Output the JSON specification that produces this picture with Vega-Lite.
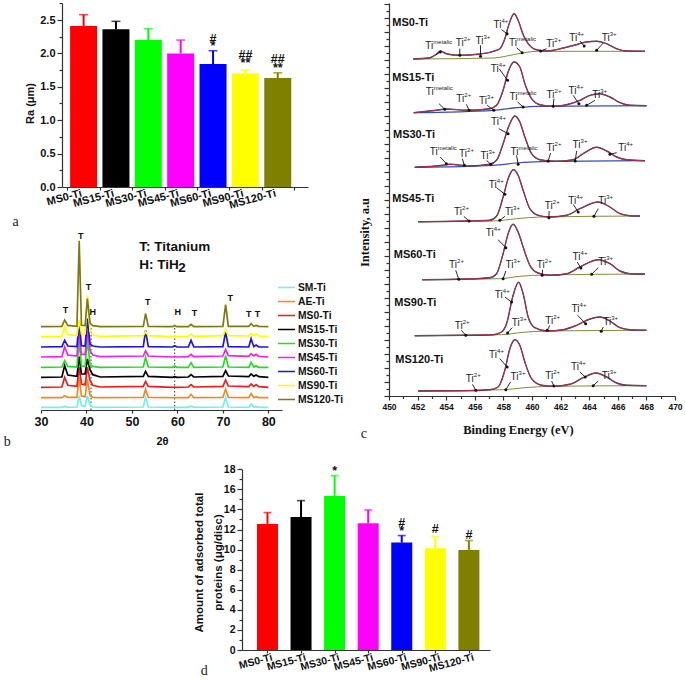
{"$schema":"https://vega.github.io/schema/vega-lite/v6.json","width":685,"height":680,"autosize":{"type":"none"},"padding":0,"background":"white",
"config":{"view":{"stroke":null},"font":"Liberation Sans","axis":{"grid":false,"domainColor":"#333","tickColor":"#333","domainWidth":1.2,"tickWidth":1.2,"labelColor":"#111","titleColor":"#111","labelFontWeight":"bold","titleFontWeight":"bold","labelOverlap":false,"labelFlush":false}},
"datasets":{
"ra":[{"pos":1,"sample":"MS0-Ti","val":2.41,"top":2.58},{"pos":2,"sample":"MS15-Ti","val":2.36,"top":2.48},{"pos":3,"sample":"MS30-Ti","val":2.2,"top":2.37},{"pos":4,"sample":"MS45-Ti","val":2.0,"top":2.2},{"pos":5,"sample":"MS60-Ti","val":1.84,"top":2.04},{"pos":6,"sample":"MS90-Ti","val":1.7,"top":1.75},{"pos":7,"sample":"MS120-Ti","val":1.63,"top":1.71}],
"prot":[{"pos":1,"sample":"MS0-Ti","val":12.56,"top":13.69},{"pos":2,"sample":"MS15-Ti","val":13.25,"top":14.88},{"pos":3,"sample":"MS30-Ti","val":15.35,"top":17.37},{"pos":4,"sample":"MS45-Ti","val":12.62,"top":13.95},{"pos":5,"sample":"MS60-Ti","val":10.7,"top":11.4},{"pos":6,"sample":"MS90-Ti","val":10.13,"top":11.3},{"pos":7,"sample":"MS120-Ti","val":9.97,"top":10.9}],
"xrd":[
{"t":30,"SM-Ti":8,"AE-Ti":37,"MS0-Ti":68,"MS15-Ti":98,"MS30-Ti":128,"MS45-Ti":159,"MS60-Ti":189,"MS90-Ti":220,"MS120-Ti":250},
{"t":34.6,"SM-Ti":8,"AE-Ti":37,"MS0-Ti":69,"MS15-Ti":99,"MS30-Ti":129,"MS45-Ti":160,"MS60-Ti":190,"MS90-Ti":221,"MS120-Ti":251},
{"t":35.2,"SM-Ti":11,"AE-Ti":43,"MS0-Ti":98,"MS15-Ti":133,"MS30-Ti":148,"MS45-Ti":189,"MS60-Ti":209,"MS90-Ti":250,"MS120-Ti":270},
{"t":35.9,"SM-Ti":8,"AE-Ti":38,"MS0-Ti":74,"MS15-Ti":105,"MS30-Ti":131,"MS45-Ti":165,"MS60-Ti":192,"MS90-Ti":226,"MS120-Ti":254},
{"t":37.9,"SM-Ti":9,"AE-Ti":38,"MS0-Ti":71,"MS15-Ti":101,"MS30-Ti":129,"MS45-Ti":162,"MS60-Ti":190,"MS90-Ti":223,"MS120-Ti":251},
{"t":38.4,"SM-Ti":43,"AE-Ti":97,"MS0-Ti":128,"MS15-Ti":160,"MS30-Ti":208,"MS45-Ti":239,"MS60-Ti":264,"MS90-Ti":270,"MS120-Ti":508},
{"t":38.9,"SM-Ti":13,"AE-Ti":42,"MS0-Ti":78,"MS15-Ti":108,"MS30-Ti":132,"MS45-Ti":167,"MS60-Ti":193,"MS90-Ti":228,"MS120-Ti":254},
{"t":39.7,"SM-Ti":11,"AE-Ti":40,"MS0-Ti":76,"MS15-Ti":108,"MS30-Ti":131,"MS45-Ti":167,"MS60-Ti":192,"MS90-Ti":228,"MS120-Ti":253},
{"t":40.2,"SM-Ti":43,"AE-Ti":92,"MS0-Ti":128,"MS15-Ti":153,"MS30-Ti":213,"MS45-Ti":239,"MS60-Ti":274,"MS90-Ti":343,"MS120-Ti":334},
{"t":40.8,"SM-Ti":14,"AE-Ti":43,"MS0-Ti":88,"MS15-Ti":120,"MS30-Ti":134,"MS45-Ti":177,"MS60-Ti":197,"MS90-Ti":235,"MS120-Ti":260},
{"t":41.4,"SM-Ti":9,"AE-Ti":38,"MS0-Ti":74,"MS15-Ti":106,"MS30-Ti":131,"MS45-Ti":165,"MS60-Ti":192,"MS90-Ti":225,"MS120-Ti":253},
{"t":43,"SM-Ti":8,"AE-Ti":37,"MS0-Ti":69,"MS15-Ti":99,"MS30-Ti":128,"MS45-Ti":160,"MS60-Ti":189,"MS90-Ti":221,"MS120-Ti":250},
{"t":52.5,"SM-Ti":9,"AE-Ti":38,"MS0-Ti":71,"MS15-Ti":101,"MS30-Ti":129,"MS45-Ti":162,"MS60-Ti":190,"MS90-Ti":223,"MS120-Ti":251},
{"t":53,"SM-Ti":38,"AE-Ti":62,"MS0-Ti":86,"MS15-Ti":116,"MS30-Ti":158,"MS45-Ti":177,"MS60-Ti":239,"MS90-Ti":235,"MS120-Ti":289},
{"t":53.6,"SM-Ti":9,"AE-Ti":38,"MS0-Ti":71,"MS15-Ti":101,"MS30-Ti":129,"MS45-Ti":162,"MS60-Ti":190,"MS90-Ti":223,"MS120-Ti":251},
{"t":58.9,"SM-Ti":8,"AE-Ti":37,"MS0-Ti":68,"MS15-Ti":98,"MS30-Ti":128,"MS45-Ti":159,"MS60-Ti":189,"MS90-Ti":220,"MS120-Ti":250},
{"t":59.4,"SM-Ti":8,"AE-Ti":37,"MS0-Ti":69,"MS15-Ti":100,"MS30-Ti":132,"MS45-Ti":161,"MS60-Ti":193,"MS90-Ti":222,"MS120-Ti":253},
{"t":59.9,"SM-Ti":8,"AE-Ti":37,"MS0-Ti":68,"MS15-Ti":98,"MS30-Ti":128,"MS45-Ti":159,"MS60-Ti":189,"MS90-Ti":220,"MS120-Ti":250},
{"t":62.4,"SM-Ti":8,"AE-Ti":37,"MS0-Ti":69,"MS15-Ti":99,"MS30-Ti":128,"MS45-Ti":160,"MS60-Ti":189,"MS90-Ti":221,"MS120-Ti":250},
{"t":63,"SM-Ti":12,"AE-Ti":47,"MS0-Ti":76,"MS15-Ti":106,"MS30-Ti":142,"MS45-Ti":167,"MS60-Ti":209,"MS90-Ti":228,"MS120-Ti":257},
{"t":63.6,"SM-Ti":8,"AE-Ti":37,"MS0-Ti":69,"MS15-Ti":99,"MS30-Ti":128,"MS45-Ti":160,"MS60-Ti":189,"MS90-Ti":221,"MS120-Ti":250},
{"t":70,"SM-Ti":9,"AE-Ti":38,"MS0-Ti":71,"MS15-Ti":101,"MS30-Ti":129,"MS45-Ti":162,"MS60-Ti":190,"MS90-Ti":223,"MS120-Ti":251},
{"t":70.6,"SM-Ti":38,"AE-Ti":62,"MS0-Ti":90,"MS15-Ti":118,"MS30-Ti":163,"MS45-Ti":181,"MS60-Ti":234,"MS90-Ti":240,"MS120-Ti":316},
{"t":71.2,"SM-Ti":9,"AE-Ti":38,"MS0-Ti":72,"MS15-Ti":102,"MS30-Ti":129,"MS45-Ti":163,"MS60-Ti":190,"MS90-Ti":223,"MS120-Ti":251},
{"t":75.7,"SM-Ti":8,"AE-Ti":37,"MS0-Ti":70,"MS15-Ti":100,"MS30-Ti":128,"MS45-Ti":161,"MS60-Ti":189,"MS90-Ti":222,"MS120-Ti":251},
{"t":76.2,"SM-Ti":18,"AE-Ti":49,"MS0-Ti":78,"MS15-Ti":108,"MS30-Ti":143,"MS45-Ti":169,"MS60-Ti":214,"MS90-Ti":230,"MS120-Ti":259},
{"t":76.8,"SM-Ti":8,"AE-Ti":37,"MS0-Ti":71,"MS15-Ti":101,"MS30-Ti":129,"MS45-Ti":162,"MS60-Ti":190,"MS90-Ti":223,"MS120-Ti":251},
{"t":77.3,"SM-Ti":10,"AE-Ti":40,"MS0-Ti":76,"MS15-Ti":105,"MS30-Ti":133,"MS45-Ti":167,"MS60-Ti":195,"MS90-Ti":228,"MS120-Ti":254},
{"t":77.9,"SM-Ti":8,"AE-Ti":37,"MS0-Ti":70,"MS15-Ti":100,"MS30-Ti":128,"MS45-Ti":161,"MS60-Ti":189,"MS90-Ti":222,"MS120-Ti":251},
{"t":80,"SM-Ti":8,"AE-Ti":37,"MS0-Ti":68,"MS15-Ti":98,"MS30-Ti":128,"MS45-Ti":159,"MS60-Ti":189,"MS90-Ti":220,"MS120-Ti":250}],
"xps":[
{"s":"MS0","e":451.7,"i":337},{"s":"MS0","e":452.85,"i":338.3},{"s":"MS0","e":453.36,"i":342.3},{"s":"MS0","e":453.6,"i":345},{"s":"MS0","e":454,"i":342.3},{"s":"MS0","e":454.95,"i":340.7},{"s":"MS0","e":456.35,"i":342},{"s":"MS0","e":457.3,"i":344.7},{"s":"MS0","e":457.75,"i":347.3},{"s":"MS0","e":458.1,"i":357.3},{"s":"MS0","e":458.4,"i":372.3},{"s":"MS0","e":458.75,"i":382.3},{"s":"MS0","e":459.03,"i":375.7},{"s":"MS0","e":459.4,"i":360.7},{"s":"MS0","e":459.73,"i":352.3},{"s":"MS0","e":460.3,"i":346.3},{"s":"MS0","e":461,"i":345},{"s":"MS0","e":462.2,"i":348},{"s":"MS0","e":463.1,"i":351.3},{"s":"MS0","e":463.8,"i":354},{"s":"MS0","e":464.5,"i":354.7},{"s":"MS0","e":465.2,"i":352.3},{"s":"MS0","e":465.9,"i":347.3},{"s":"MS0","e":466.6,"i":345},{"s":"MS0","e":467.9,"i":344.7},
{"s":"MS15","e":451.73,"i":283.3},{"s":"MS15","e":453.31,"i":285.7},{"s":"MS15","e":454.01,"i":287},{"s":"MS15","e":455.41,"i":285.7},{"s":"MS15","e":457.05,"i":287.3},{"s":"MS15","e":457.52,"i":290.7},{"s":"MS15","e":457.98,"i":305.7},{"s":"MS15","e":458.33,"i":324},{"s":"MS15","e":458.75,"i":334},{"s":"MS15","e":459.15,"i":329},{"s":"MS15","e":459.5,"i":312.3},{"s":"MS15","e":459.97,"i":297.3},{"s":"MS15","e":460.55,"i":291.3},{"s":"MS15","e":461.48,"i":289.7},{"s":"MS15","e":462.42,"i":291.3},{"s":"MS15","e":463.35,"i":295.7},{"s":"MS15","e":464.05,"i":300.7},{"s":"MS15","e":464.75,"i":302.3},{"s":"MS15","e":465.45,"i":299},{"s":"MS15","e":466.15,"i":293.3},{"s":"MS15","e":466.85,"i":290.7},{"s":"MS15","e":468,"i":290.3},
{"s":"MS30","e":451.8,"i":228.7},{"s":"MS30","e":453.78,"i":230.7},{"s":"MS30","e":454.25,"i":231.7},{"s":"MS30","e":455.65,"i":230},{"s":"MS30","e":457.05,"i":231.7},{"s":"MS30","e":457.52,"i":235.7},{"s":"MS30","e":457.98,"i":252.3},{"s":"MS30","e":458.4,"i":270.7},{"s":"MS30","e":458.8,"i":280},{"s":"MS30","e":459.15,"i":274},{"s":"MS30","e":459.5,"i":259},{"s":"MS30","e":459.97,"i":242.3},{"s":"MS30","e":460.55,"i":236.3},{"s":"MS30","e":461.72,"i":234.7},{"s":"MS30","e":462.88,"i":236.3},{"s":"MS30","e":463.58,"i":242.3},{"s":"MS30","e":464.52,"i":248.7},{"s":"MS30","e":465.22,"i":245},{"s":"MS30","e":465.92,"i":239},{"s":"MS30","e":466.62,"i":236.3},{"s":"MS30","e":467.9,"i":235.3},
{"s":"MS45","e":452.03,"i":174.3},{"s":"MS45","e":455.41,"i":175},{"s":"MS45","e":457.05,"i":175.7},{"s":"MS45","e":457.52,"i":179.7},{"s":"MS45","e":457.98,"i":199},{"s":"MS45","e":458.33,"i":217.3},{"s":"MS45","e":458.7,"i":226.3},{"s":"MS45","e":459.03,"i":220.7},{"s":"MS45","e":459.38,"i":205.7},{"s":"MS45","e":459.85,"i":187.3},{"s":"MS45","e":460.43,"i":180.7},{"s":"MS45","e":461.25,"i":179},{"s":"MS45","e":462.42,"i":180.7},{"s":"MS45","e":463.35,"i":187.3},{"s":"MS45","e":464.63,"i":194},{"s":"MS45","e":465.45,"i":189},{"s":"MS45","e":466.15,"i":182.3},{"s":"MS45","e":466.85,"i":180.3},{"s":"MS45","e":467.55,"i":180},
{"s":"MS60","e":452.33,"i":116.3},{"s":"MS60","e":455.41,"i":117},{"s":"MS60","e":457.05,"i":118.3},{"s":"MS60","e":457.52,"i":122.3},{"s":"MS60","e":457.98,"i":142.3},{"s":"MS60","e":458.33,"i":162.3},{"s":"MS60","e":458.68,"i":171.7},{"s":"MS60","e":459.03,"i":164},{"s":"MS60","e":459.38,"i":149},{"s":"MS60","e":459.85,"i":130.7},{"s":"MS60","e":460.43,"i":123},{"s":"MS60","e":461.25,"i":120.7},{"s":"MS60","e":462.42,"i":122.3},{"s":"MS60","e":463.35,"i":129},{"s":"MS60","e":464.63,"i":136.3},{"s":"MS60","e":465.45,"i":132.3},{"s":"MS60","e":466.15,"i":125},{"s":"MS60","e":466.85,"i":122.3},{"s":"MS60","e":467.9,"i":122},
{"s":"MS90","e":451.8,"i":60.3},{"s":"MS90","e":455.18,"i":60.7},{"s":"MS90","e":457.28,"i":61.3},{"s":"MS90","e":457.87,"i":64},{"s":"MS90","e":458.22,"i":72.3},{"s":"MS90","e":458.68,"i":100.7},{"s":"MS90","e":459.06,"i":113.7},{"s":"MS90","e":459.38,"i":102.3},{"s":"MS90","e":459.73,"i":79},{"s":"MS90","e":460.2,"i":68.3},{"s":"MS90","e":461.02,"i":65},{"s":"MS90","e":462.18,"i":66.3},{"s":"MS90","e":463.12,"i":70.7},{"s":"MS90","e":464.05,"i":77},{"s":"MS90","e":464.75,"i":79},{"s":"MS90","e":465.45,"i":75},{"s":"MS90","e":466.15,"i":68.3},{"s":"MS90","e":466.85,"i":66.3},{"s":"MS90","e":468,"i":65.7},
{"s":"MS120","e":452.03,"i":5},{"s":"MS120","e":455.18,"i":5.3},{"s":"MS120","e":457.05,"i":6.3},{"s":"MS120","e":457.63,"i":9},{"s":"MS120","e":458.1,"i":25.7},{"s":"MS120","e":458.45,"i":47.3},{"s":"MS120","e":458.8,"i":56.3},{"s":"MS120","e":459.15,"i":50.7},{"s":"MS120","e":459.5,"i":34},{"s":"MS120","e":459.97,"i":17.3},{"s":"MS120","e":460.67,"i":10.7},{"s":"MS120","e":461.48,"i":9.7},{"s":"MS120","e":462.65,"i":11.7},{"s":"MS120","e":463.58,"i":18.3},{"s":"MS120","e":464.47,"i":23},{"s":"MS120","e":465.22,"i":19},{"s":"MS120","e":465.92,"i":13},{"s":"MS120","e":466.62,"i":10.7},{"s":"MS120","e":468,"i":10.3}],
"xpsbase":[
{"s":"MS0","g":"g","e":451.7,"i":337},{"s":"MS0","g":"g","e":457.3,"i":338},{"s":"MS0","g":"g","e":458.94,"i":342},{"s":"MS0","g":"g","e":460.34,"i":344.7},{"s":"MS0","g":"g","e":467.9,"i":344.7},
{"s":"MS15","g":"b","e":451.73,"i":283.3},{"s":"MS15","g":"b","e":457.28,"i":285.7},{"s":"MS15","g":"b","e":458.92,"i":288.3},{"s":"MS15","g":"b","e":460.34,"i":289.7},{"s":"MS15","g":"b","e":468,"i":290.3},
{"s":"MS30","g":"b","e":451.8,"i":228.7},{"s":"MS30","g":"b","e":457.28,"i":230.7},{"s":"MS30","g":"b","e":458.92,"i":233},{"s":"MS30","g":"b","e":460.55,"i":234.3},{"s":"MS30","g":"b","e":467.9,"i":235.3},
{"s":"MS45","g":"g","e":452.03,"i":174.3},{"s":"MS45","g":"g","e":457.28,"i":175},{"s":"MS45","g":"g","e":458.92,"i":177.3},{"s":"MS45","g":"g","e":460.55,"i":179},{"s":"MS45","g":"g","e":467.55,"i":180},
{"s":"MS60","g":"g","e":452.33,"i":116.3},{"s":"MS60","g":"g","e":457.75,"i":117.3},{"s":"MS60","g":"g","e":459.15,"i":119.7},{"s":"MS60","g":"g","e":460.8,"i":121},{"s":"MS60","g":"g","e":467.9,"i":122},
{"s":"MS90","g":"g","e":451.8,"i":60.3},{"s":"MS90","g":"g","e":457.87,"i":61.3},{"s":"MS90","g":"g","e":459.38,"i":63.7},{"s":"MS90","g":"g","e":461.02,"i":65},{"s":"MS90","g":"g","e":468,"i":65.7},
{"s":"MS120","g":"g","e":452.03,"i":5},{"s":"MS120","g":"g","e":457.98,"i":6.3},{"s":"MS120","g":"g","e":459.5,"i":8.3},{"s":"MS120","g":"g","e":461.25,"i":9.7},{"s":"MS120","g":"g","e":468,"i":10.3}],
"ti":[
{"e":452.54,"i":346.7,"b":"Ti","u":"metalic"},{"e":454.67,"i":349.7,"b":"Ti","u":"2+"},{"e":456.05,"i":351.7,"b":"Ti","u":"3+"},{"e":457.31,"i":368.3,"b":"Ti","u":"4+"},{"e":458.4,"i":350,"b":"Ti","u":"metalic"},{"e":461,"i":349,"b":"Ti","u":"2+"},{"e":462.6,"i":354.7,"b":"Ti","u":"4+"},{"e":464.87,"i":355,"b":"Ti","u":"3+"},
{"e":452.57,"i":301.3,"b":"Ti","u":"metalic"},{"e":454.71,"i":294.3,"b":"Ti","u":"2+"},{"e":456.3,"i":292.3,"b":"Ti","u":"3+"},{"e":457.12,"i":324,"b":"Ti","u":"4+"},{"e":458.43,"i":295.7,"b":"Ti","u":"metalic"},{"e":461.02,"i":298.3,"b":"Ti","u":"2+"},{"e":462.56,"i":302.3,"b":"Ti","u":"4+"},{"e":464.21,"i":298.3,"b":"Ti","u":"3+"},
{"e":452.85,"i":240.7,"b":"Ti","u":"metalic"},{"e":454.9,"i":239,"b":"Ti","u":"2+"},{"e":456.4,"i":237.3,"b":"Ti","u":"3+"},{"e":457.14,"i":270.7,"b":"Ti","u":"4+"},{"e":458.5,"i":240.7,"b":"Ti","u":"metalic"},{"e":461.02,"i":245,"b":"Ti","u":"2+"},{"e":462.84,"i":248,"b":"Ti","u":"3+"},{"e":466.03,"i":245,"b":"Ti","u":"4+"},
{"e":454.55,"i":180.7,"b":"Ti","u":"2+"},{"e":458.12,"i":180.7,"b":"Ti","u":"3+"},{"e":456.98,"i":208.3,"b":"Ti","u":"4+"},{"e":460.9,"i":187.3,"b":"Ti","u":"2+"},{"e":462.53,"i":192.3,"b":"Ti","u":"4+"},{"e":464.63,"i":191.7,"b":"Ti","u":"3+"},
{"e":456.77,"i":159.7,"b":"Ti","u":"4+"},{"e":454.2,"i":128,"b":"Ti","u":"2+"},{"e":458.15,"i":128,"b":"Ti","u":"3+"},{"e":460.34,"i":128.3,"b":"Ti","u":"2+"},{"e":462.84,"i":136.3,"b":"Ti","u":"4+"},{"e":464.63,"i":130.7,"b":"Ti","u":"3+"},
{"e":457.4,"i":98,"b":"Ti","u":"4+"},{"e":454.6,"i":66.7,"b":"Ti","u":"2+"},{"e":458.59,"i":70,"b":"Ti","u":"3+"},{"e":460.92,"i":71.7,"b":"Ti","u":"2+"},{"e":462.77,"i":84,"b":"Ti","u":"4+"},{"e":464.98,"i":71.3,"b":"Ti","u":"3+"},
{"e":457,"i":38.3,"b":"Ti","u":"4+"},{"e":455.37,"i":14,"b":"Ti","u":"2+"},{"e":458.5,"i":15.7,"b":"Ti","u":"3+"},{"e":460.92,"i":16.7,"b":"Ti","u":"2+"},{"e":462.72,"i":25.7,"b":"Ti","u":"4+"},{"e":464.87,"i":17,"b":"Ti","u":"3+"}],
"arrows":[
{"e":453.27,"i":341.3,"e2":453.59,"i2":344},{"e":454.95,"i":347.3,"e2":454.95,"i2":340.7},{"e":456.4,"i":350.7,"e2":456.4,"i2":339.7},{"e":457.87,"i":366.3,"e2":458.26,"i2":362.3},{"e":458.92,"i":348.3,"e2":459.31,"i2":343.3},{"e":461.02,"i":347.3,"e2":460.6,"i2":345},{"e":463.35,"i":355,"e2":463.65,"i2":350},{"e":464.98,"i":353,"e2":464.52,"i2":345.7},
{"e":453.5,"i":292.3,"e2":453.9,"i2":286.7},{"e":455.41,"i":291.7,"e2":455.6,"i2":285.7},{"e":456.86,"i":290.7,"e2":457.33,"i2":285.7},{"e":457.7,"i":327.3,"e2":458.29,"i2":315.7},{"e":458.99,"i":294,"e2":459.38,"i2":289},{"e":461.53,"i":297.3,"e2":461.48,"i2":289.7},{"e":462.88,"i":300.7,"e2":463.28,"i2":292.3},{"e":464.4,"i":295.7,"e2":463.82,"i2":290.7},
{"e":453.59,"i":239,"e2":454.01,"i2":232.3},{"e":455.13,"i":237.3,"e2":455.27,"i2":230.7},{"e":456.82,"i":235.7,"e2":457.12,"i2":231.7},{"e":457.68,"i":267.3,"e2":458.33,"i2":262.3},{"e":458.92,"i":240.7,"e2":459.03,"i2":231.7},{"e":461.3,"i":243,"e2":461.13,"i2":235},{"e":463.12,"i":245,"e2":463.02,"i2":235},{"e":465.92,"i":243.3,"e2":465.45,"i2":241.7},
{"e":455.23,"i":179.7,"e2":455.6,"i2":175},{"e":458.1,"i":179.7,"e2":457.75,"i2":175.7},{"e":457.52,"i":208.3,"e2":458.1,"i2":201.7},{"e":461.2,"i":185,"e2":461.18,"i2":178.3},{"e":462.88,"i":191.7,"e2":463.23,"i2":184},{"e":464.63,"i":187.3,"e2":464.33,"i2":179.7},
{"e":457.63,"i":156.3,"e2":458.17,"i2":148.3},{"e":454.67,"i":125.7,"e2":454.88,"i2":116.7},{"e":458.17,"i":125,"e2":457.98,"i2":117.3},{"e":460.74,"i":126.3,"e2":460.71,"i2":120.7},{"e":463.16,"i":134,"e2":463.42,"i2":128},{"e":464.63,"i":128.3,"e2":464.17,"i2":121.7},
{"e":458.1,"i":99,"e2":458.57,"i2":94},{"e":455.06,"i":65.7,"e2":455.37,"i2":60.7},{"e":458.61,"i":68.3,"e2":458.29,"i2":63},{"e":461.25,"i":70.7,"e2":461.06,"i2":65.7},{"e":463.19,"i":80.7,"e2":463.75,"i2":72.3},{"e":464.98,"i":69,"e2":464.84,"i2":64.7},
{"e":457.75,"i":37.3,"e2":458.26,"i2":29},{"e":455.84,"i":11.7,"e2":456.07,"i2":5.7},{"e":458.5,"i":14,"e2":458.17,"i2":6.3},{"e":461.37,"i":15,"e2":461.53,"i2":10},{"e":463.35,"i":24,"e2":463.72,"i2":19},{"e":464.63,"i":15,"e2":464.28,"i2":10.3}]
},
"layer":[
{"resolve":{"axis":{"x":"independent","y":"independent"}},
 "layer":[
 {"data":{"name":"ra"},"mark":{"type":"bar","width":27},
  "encoding":{"x":{"field":"pos","type":"quantitative","scale":{"domain":[0.487,7.78],"range":[62,308],"nice":false,"zero":false},"axis":{"orient":"bottom","offset":-493,"values":[1,2,3,4,5,6,7],"labelExpr":"['MS0-Ti','MS15-Ti','MS30-Ti','MS45-Ti','MS60-Ti','MS90-Ti','MS120-Ti'][datum.value-1]","tickSize":0,"labelAngle":345,"labelAlign":"right","labelBaseline":"top","labelFontSize":11,"labelPadding":0,"labelOffset":-4,"title":null}},
  "y":{"field":"val","type":"quantitative","scale":{"domain":[0,2.75],"range":[187,3.3],"nice":false,"zero":false},"axis":{"orient":"left","offset":-62,"values":[0,0.5,1,1.5,2,2.5],"format":".1f","tickSize":5,"labelFontSize":11,"labelPadding":2,"title":"Ra (μm)","titleFontSize":11,"titleX":-27,"titleY":103}},
  "color":{"field":"sample","type":"nominal","legend":null,"scale":{"domain":["MS0-Ti","MS15-Ti","MS30-Ti","MS45-Ti","MS60-Ti","MS90-Ti","MS120-Ti"],"range":["#ff0000","#000000","#00ff00","#ff00ff","#0000ff","#ffff00","#808000"]}}}},
 {"data":{"name":"ra"},"mark":{"type":"rule","strokeWidth":2},
  "encoding":{"x":{"field":"pos","type":"quantitative","axis":{"orient":"bottom","offset":-493,"values":[0.5,1.5,2.5,3.5,4.5,5.5,6.5,7.5],"labels":false,"domain":false,"tickSize":3,"title":null}},
  "y":{"field":"val","type":"quantitative","axis":{"orient":"left","offset":-62,"values":[0.25,0.75,1.25,1.75,2.25,2.75],"labels":false,"domain":false,"tickSize":3,"title":null}},"y2":{"field":"top"},
  "color":{"field":"sample","type":"nominal","legend":null}}},
 {"data":{"name":"ra"},"mark":{"type":"tick","orient":"horizontal","size":9,"thickness":1.6},
  "encoding":{"x":{"field":"pos","type":"quantitative","axis":null},"y":{"field":"top","type":"quantitative","axis":null},"color":{"field":"sample","type":"nominal","legend":null}}},
 {"data":{"values":[{"pos":5,"val":2.21,"label":"#"},{"pos":5,"val":2.11,"label":"*"},{"pos":6,"val":1.97,"label":"##"},{"pos":6,"val":1.85,"label":"**"},{"pos":7,"val":1.91,"label":"##"},{"pos":7,"val":1.78,"label":"**"}]},"mark":{"type":"text","fontSize":12.5,"fontWeight":"bold","color":"#111"},
  "encoding":{"x":{"field":"pos","type":"quantitative","axis":null},"y":{"field":"val","type":"quantitative","axis":null},"text":{"field":"label"}}},
 {"data":{"values":[{"pos":-1.1,"val":-0.53,"label":"a"}]},"mark":{"type":"text","fontSize":14,"font":"Liberation Serif","color":"#222"},
  "encoding":{"x":{"field":"pos","type":"quantitative","axis":null},"y":{"field":"val","type":"quantitative","axis":null},"text":{"field":"label"}}}
 ]},
{"resolve":{"axis":{"x":"independent","y":"independent"}},
 "layer":[
 {"data":{"values":[{"t":41,"lo":0,"hi":246},{"t":59.4,"lo":0,"hi":256}]},"mark":{"type":"rule","strokeDash":[1.5,2],"strokeWidth":1,"color":"#333"},
  "encoding":{"x":{"field":"t","type":"quantitative","scale":{"domain":[30,83],"range":[41,282],"nice":false,"zero":false},"axis":{"orient":"bottom","offset":-270,"values":[30,40,50,60,70,80],"tickSize":3,"labelFontSize":12.5,"labelPadding":2,"title":"2θ","titleFontSize":11,"titleX":162,"titleY":25}},
  "y":{"field":"lo","type":"quantitative","scale":{"domain":[0,534],"range":[410,232],"nice":false,"zero":false},"axis":null},"y2":{"field":"hi"}}},
 {"data":{"name":"xrd"},"transform":[{"fold":["SM-Ti","AE-Ti","MS0-Ti","MS15-Ti","MS30-Ti","MS45-Ti","MS60-Ti","MS90-Ti","MS120-Ti"],"as":["series","inten"]}],"mark":{"type":"line","strokeWidth":1.7},
  "encoding":{"x":{"field":"t","type":"quantitative","axis":null},"y":{"field":"inten","type":"quantitative","axis":null},
  "color":{"field":"series","type":"nominal","sort":null,"scale":{"domain":["SM-Ti","AE-Ti","MS0-Ti","MS15-Ti","MS30-Ti","MS45-Ti","MS60-Ti","MS90-Ti","MS120-Ti"],"range":["#70f0f0","#f08a24","#ee1c1c","#000000","#22dd22","#ee22ee","#1a1ad8","#ffff00","#7f7a10"]},
   "legend":{"orient":"none","legendX":277,"legendY":281,"title":null,"symbolType":"stroke","symbolSize":289,"symbolStrokeWidth":1.5,"clipHeight":13.2,"rowPadding":0,"labelFontSize":10.3,"labelFontWeight":"bold","labelColor":"#111","labelOffset":2}}}},
 {"data":{"values":[{"t":35.4,"val":301,"label":"T"},{"t":38.75,"val":523,"label":"T"},{"t":40.45,"val":368,"label":"T"},{"t":41.4,"val":293,"label":"H"},{"t":53.45,"val":323,"label":"T"},{"t":60.07,"val":293,"label":"H"},{"t":63.75,"val":290,"label":"T"},{"t":71.6,"val":336,"label":"T"},{"t":75.7,"val":288,"label":"T"},{"t":77.6,"val":288,"label":"T"}]},"mark":{"type":"text","fontSize":9,"fontWeight":"bold","color":"#111"},
  "encoding":{"x":{"field":"t","type":"quantitative","axis":null},"y":{"field":"val","type":"quantitative","axis":null},"text":{"field":"label"}}},
 {"data":{"values":[{"t":51.6,"val":489,"label":"T: Titanium"},{"t":51.6,"val":436,"label":"H: TiH"}]},"mark":{"type":"text","fontSize":13.5,"fontWeight":"bold","align":"left","color":"#111"},
  "encoding":{"x":{"field":"t","type":"quantitative","axis":null},"y":{"field":"val","type":"quantitative","axis":null},"text":{"field":"label"}}},
 {"data":{"values":[{"t":60.2,"val":426,"label":"2"}]},"mark":{"type":"text","fontSize":13.5,"fontWeight":"bold","align":"left","color":"#111"},
  "encoding":{"x":{"field":"t","type":"quantitative","axis":null},"y":{"field":"val","type":"quantitative","axis":null},"text":{"field":"label"}}},
 {"data":{"values":[{"t":22.6,"val":-95,"label":"b"}]},"mark":{"type":"text","fontSize":14,"font":"Liberation Serif","color":"#222"},
  "encoding":{"x":{"field":"t","type":"quantitative","axis":null},"y":{"field":"val","type":"quantitative","axis":null},"text":{"field":"label"}}}
 ]},
{"resolve":{"axis":{"x":"independent","y":"independent"}},
 "layer":[
 {"data":{"name":"xpsbase"},"transform":[{"filter":"datum.g=='g'"}],"mark":{"type":"line","strokeWidth":1,"color":"#7d8f3c","interpolate":"monotone"},
  "encoding":{"x":{"field":"e","type":"quantitative","scale":{"domain":[450,470],"range":[389,675],"nice":false,"zero":false},"axis":{"orient":"bottom","offset":-284,"values":[450,452,454,456,458,460,462,464,466,468,470],"tickSize":4,"labelFontSize":8.5,"labelPadding":2,"title":"Binding Energy (eV)","titleFont":"Liberation Serif","titleFontSize":12.5,"titleX":518,"titleY":27}},
  "y":{"field":"i","type":"quantitative","scale":{"domain":[0,393],"range":[396,3],"nice":false,"zero":false},"axis":{"orient":"left","offset":-389,"values":[0,14,28,42,56,70,84,98,112,126,140,154,168,182,196,210,224,238,252,266,280,294,308,322,336,350,364,378,392],"labels":false,"tickSize":5,"title":"Intensity, a.u","titleFont":"Liberation Serif","titleFontSize":12.5,"titleX":-18,"titleY":232}},
  "detail":{"field":"s"}}},
 {"data":{"name":"xpsbase"},"transform":[{"filter":"datum.g=='b'"}],"mark":{"type":"line","strokeWidth":1.2,"color":"#3b4bb8","interpolate":"monotone"},
  "encoding":{"x":{"field":"e","type":"quantitative","axis":{"orient":"bottom","offset":-284,"values":[451,453,455,457,459,461,463,465,467,469],"labels":false,"domain":false,"tickSize":2.5,"title":null}},
  "y":{"field":"i","type":"quantitative","axis":{"orient":"left","offset":-389,"values":[7,21,35,49,63,77,91,105,119,133,147,161,175,189,203,217,231,245,259,273,287,301,315,329,343,357,371,385],"labels":false,"domain":false,"tickSize":3,"title":null}},
  "detail":{"field":"s"}}},
 {"data":{"name":"xps"},"mark":{"type":"line","strokeWidth":1.4,"color":"#35354f","interpolate":"monotone"},
  "encoding":{"x":{"field":"e","type":"quantitative","axis":null},"y":{"field":"i","type":"quantitative","axis":null},"detail":{"field":"s"}}},
 {"data":{"name":"xps"},"mark":{"type":"line","strokeWidth":0.9,"color":"#c0304a","interpolate":"monotone"},
  "encoding":{"x":{"field":"e","type":"quantitative","axis":null},"y":{"field":"i","type":"quantitative","axis":null},"detail":{"field":"s"}}},
 {"data":{"name":"arrows"},"mark":{"type":"rule","strokeWidth":0.9,"color":"#111"},
  "encoding":{"x":{"field":"e","type":"quantitative","axis":null},"y":{"field":"i","type":"quantitative","axis":null},"x2":{"field":"e2"},"y2":{"field":"i2"}}},
 {"data":{"name":"arrows"},"mark":{"type":"point","shape":"circle","filled":true,"size":9,"color":"#111","opacity":1},
  "encoding":{"x":{"field":"e2","type":"quantitative","axis":null},"y":{"field":"i2","type":"quantitative","axis":null}}},
 {"data":{"name":"ti"},"mark":{"type":"text","fontSize":10,"align":"left","baseline":"alphabetic","color":"#222"},
  "encoding":{"x":{"field":"e","type":"quantitative","axis":null},"y":{"field":"i","type":"quantitative","axis":null},"text":{"field":"b"}}},
 {"data":{"name":"ti"},"mark":{"type":"text","fontSize":6,"align":"left","baseline":"alphabetic","dx":8,"dy":-5,"color":"#222"},
  "encoding":{"x":{"field":"e","type":"quantitative","axis":null},"y":{"field":"i","type":"quantitative","axis":null},"text":{"field":"u"}}},
 {"data":{"values":[{"e":450.23,"i":369.7,"label":"MS0-Ti"},{"e":450.23,"i":315,"label":"MS15-Ti"},{"e":450.28,"i":258.3,"label":"MS30-Ti"},{"e":450.23,"i":193.7,"label":"MS45-Ti"},{"e":450.33,"i":138.3,"label":"MS60-Ti"},{"e":450.37,"i":90.3,"label":"MS90-Ti"},{"e":450.44,"i":33,"label":"MS120-Ti"}]},"mark":{"type":"text","fontSize":11,"fontWeight":"bold","align":"left","baseline":"alphabetic","color":"#111"},
  "encoding":{"x":{"field":"e","type":"quantitative","axis":null},"y":{"field":"i","type":"quantitative","axis":null},"text":{"field":"label"}}},
 {"data":{"values":[{"e":448.25,"i":-38,"label":"c"}]},"mark":{"type":"text","fontSize":14,"font":"Liberation Serif","color":"#222"},
  "encoding":{"x":{"field":"e","type":"quantitative","axis":null},"y":{"field":"i","type":"quantitative","axis":null},"text":{"field":"label"}}}
 ]},
{"resolve":{"axis":{"x":"independent","y":"independent"}},
 "layer":[
 {"data":{"name":"prot"},"mark":{"type":"bar","width":21},
  "encoding":{"x":{"field":"pos","type":"quantitative","scale":{"domain":[0.39,7.48],"range":[242,490],"nice":false,"zero":false},"axis":{"orient":"bottom","offset":-30,"values":[1,2,3,4,5,6,7],"labelExpr":"['MS0-Ti','MS15-Ti','MS30-Ti','MS45-Ti','MS60-Ti','MS90-Ti','MS120-Ti'][datum.value-1]","tickSize":3,"labelAngle":345,"labelAlign":"right","labelBaseline":"top","labelFontSize":10.5,"labelPadding":-1,"labelOffset":3,"title":null}},
  "y":{"field":"val","type":"quantitative","scale":{"domain":[0,18],"range":[650,469.3],"nice":false,"zero":false},"axis":{"orient":"left","offset":-242,"values":[0,2,4,6,8,10,12,14,16,18],"tickSize":5,"labelFontSize":10.5,"labelPadding":2,"title":["Amount of adsorbed total","proteins (μg/disc)"],"titleFontSize":11.5,"titleLineHeight":19,"titleX":-38,"titleY":562}},
  "color":{"field":"sample","type":"nominal","legend":null,"scale":{"domain":["MS0-Ti","MS15-Ti","MS30-Ti","MS45-Ti","MS60-Ti","MS90-Ti","MS120-Ti"],"range":["#ff0000","#000000","#00ff00","#ff00ff","#0000ff","#ffff00","#808000"]}}}},
 {"data":{"name":"prot"},"mark":{"type":"rule","strokeWidth":2},
  "encoding":{"x":{"field":"pos","type":"quantitative","axis":null},
  "y":{"field":"val","type":"quantitative","axis":{"orient":"left","offset":-242,"values":[1,3,5,7,9,11,13,15,17],"labels":false,"domain":false,"tickSize":3,"title":null}},"y2":{"field":"top"},
  "color":{"field":"sample","type":"nominal","legend":null}}},
 {"data":{"name":"prot"},"mark":{"type":"tick","orient":"horizontal","size":8,"thickness":1.6},
  "encoding":{"x":{"field":"pos","type":"quantitative","axis":null},"y":{"field":"top","type":"quantitative","axis":null},"color":{"field":"sample","type":"nominal","legend":null}}},
 {"data":{"values":[{"pos":3,"val":17.85,"label":"*"},{"pos":5,"val":12.7,"label":"#"},{"pos":5,"val":11.9,"label":"*"},{"pos":6,"val":12.1,"label":"#"},{"pos":7,"val":11.5,"label":"#"}]},"mark":{"type":"text","fontSize":12.5,"fontWeight":"bold","color":"#111"},
  "encoding":{"x":{"field":"pos","type":"quantitative","axis":null},"y":{"field":"val","type":"quantitative","axis":null},"text":{"field":"label"}}},
 {"data":{"values":[{"pos":-0.88,"val":-2.1,"label":"d"}]},"mark":{"type":"text","fontSize":14,"font":"Liberation Serif","color":"#222"},
  "encoding":{"x":{"field":"pos","type":"quantitative","axis":null},"y":{"field":"val","type":"quantitative","axis":null},"text":{"field":"label"}}}
 ]}
],
"resolve":{"scale":{"x":"independent","y":"independent","color":"independent"},"axis":{"x":"independent","y":"independent"}}
}
